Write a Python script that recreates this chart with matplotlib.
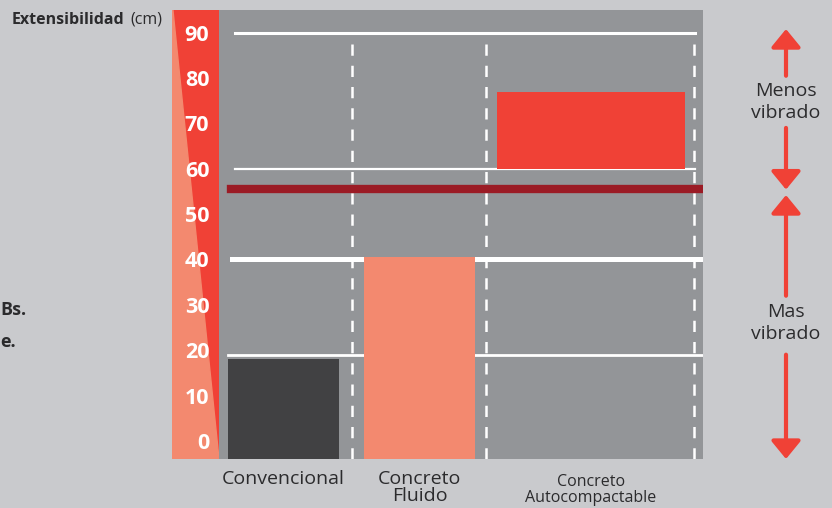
import matplotlib
matplotlib.use("Agg")
import matplotlib.pyplot as plt
from matplotlib.patches import Polygon

plt.rcParams['font.family'] = ['Open Sans', 'DejaVu Sans']

# data
categories = ["Convencional", "Concreto\nFluido", "Concreto\nAutocompactable"]
bar_bottom = [-4, -4, 60]
bar_top = [18, 40.5, 77]
bar_colors = ["#414143", "#f3896f", "#f04136"]
ticks = [0, 10, 20, 30, 40, 50, 60, 70, 80, 90]
limit_line = 55.5
ref_lines = [90, 60, 40, 19]

W, H = 832, 508
fig = plt.figure(figsize=(W / 100, H / 100), dpi=100, facecolor="#c9cacd")

def px_axes(x0, y0, x1, y1, **kw):
    return fig.add_axes([x0 / W, 1 - y1 / H, (x1 - x0) / W, (y1 - y0) / H], **kw)

# left coloured strip
strip = px_axes(172, 10, 219, 459, zorder=0)
strip.set_xlim(0, 1)
strip.set_ylim(0, 1)
strip.axis("off")
strip.add_patch(Polygon([[0, 0], [1, 0], [1, 1], [0, 1]], closed=True, color="#f04136"))
strip.add_patch(Polygon([[0, 0], [1, 0], [0.02, 1], [0, 1]], closed=True, color="#f3896f"))

# main plot
ax = px_axes(219, 10, 703, 459, zorder=1)
ax.set_facecolor("#939598")
for s in ax.spines.values():
    s.set_visible(False)
ax.set_xlim(-0.474, 3.085)
ax.set_ylim(-4, 95)
ax.set_xticks([])
ax.set_yticks(ticks)
ax.set_yticklabels([str(t) for t in ticks], color="white", fontweight="bold", fontsize=15.5)
ax.tick_params(axis="y", length=0, pad=7)

# white reference lines
spans = {90: (0.033, 0.983, 2.2), 60: (0.033, 0.983, 1.6), 40: (0.027, 1.0, 3.6), 19: (0.019, 1.0, 2.0)}
for v in ref_lines:
    a, b, lw = spans[v]
    ax.axhline(v, xmin=a, xmax=b, color="white", lw=lw, zorder=2)

# dashed separators
for xv in [0.504, 1.489, 3.018]:
    ax.plot([xv, xv], [-4, 90], color="white", lw=1.8, dashes=(4.5, 4), zorder=1.5)

# bars
xpos = [0, 1, 2.26]
widths = [0.816, 0.816, 1.38]
ax.bar(xpos, [t - b for t, b in zip(bar_top, bar_bottom)], bottom=bar_bottom,
       width=widths, color=bar_colors, zorder=3)

# limit line
ax.axhline(limit_line, xmin=0.025, xmax=1.0, color="#9b1b25", lw=6, zorder=4)

# category labels
label_x = [0, 1, 2.26]
label_sizes = [14, 14, 11.5]
label_dy = [-6.4, -6.4, -7.4]
label_ls = [0.95, 0.95, 1.0]
for x, lab, fs, dy, ls in zip(label_x, categories, label_sizes, label_dy, label_ls):
    ax.text(x, dy, lab, ha="center", va="top", fontsize=fs, color="#2b2b2d",
            linespacing=ls, clip_on=False)

# axis title
fig.text(12 / W, 1 - 20 / H, "Extensibilidad", fontweight="bold", fontsize=11.5,
         color="#2b2b2d", va="center", ha="left")
fig.text(130 / W, 1 - 20 / H, "(cm)", fontsize=11.5, color="#2b2b2d", va="center", ha="left")

# background text at the left edge
fig.text(0, 1 - 310 / H, "Bs.", fontweight="bold", fontsize=13, color="#2b2b2d", va="center")
fig.text(0, 1 - 342 / H, "e.", fontweight="bold", fontsize=13, color="#2b2b2d", va="center")

# right arrows
tr = ax.get_yaxis_transform()
ax_x = (786 - 219) / 484
arrow_kw = dict(arrowstyle="-|>,head_width=0.45,head_length=0.55", color="#f04136",
                lw=3, mutation_scale=20, shrinkA=0, shrinkB=0)
for y0, y1 in [(80.5, 90.8), (69.0, 55.4), (32.0, 54.2), (19.0, -4.0)]:
    ax.annotate("", xy=(ax_x, y1), xytext=(ax_x, y0), xycoords=tr, textcoords=tr,
                arrowprops=arrow_kw, annotation_clip=False)
ax.text(ax_x, 74.8, "Menos\nvibrado", transform=tr, ha="center", va="center",
        fontsize=14, color="#2b2b2d", linespacing=1.3, clip_on=False)
ax.text(ax_x, 26.0, "Mas\nvibrado", transform=tr, ha="center", va="center",
        fontsize=14, color="#2b2b2d", linespacing=1.3, clip_on=False)

fig.savefig("out.png", dpi=100, facecolor=fig.get_facecolor())
